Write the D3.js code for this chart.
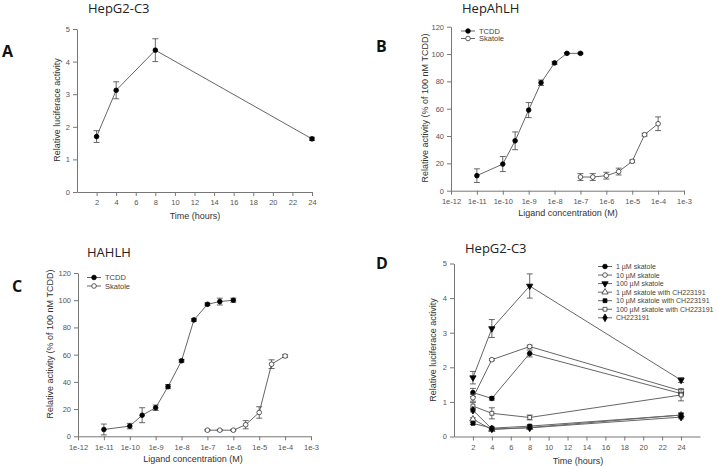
<!DOCTYPE html>
<html><head><meta charset="utf-8">
<script src="https://cdn.jsdelivr.net/npm/d3@7/dist/d3.min.js"></script>
<style>
body{margin:0;background:#fff;}
svg{display:block;font-family:"Liberation Sans",Arial,sans-serif;}
</style></head>
<body>
<svg id="c" width="717" height="468"></svg>
<script>
// ---------- DATA ----------
// Panel A
const timeA = [2, 4, 8, 24];
const meanA = [1.70, 3.12, 4.35, 1.63];
const errA  = [0.18, 0.26, 0.35, 0.05];
const timeTicks = [2,4,6,8,10,12,14,16,18,20,22,24];

// Panel B (HepAhLH)
const tcddConcB = [1e-11, 1e-10, 3e-10, 1e-9, 3e-9, 1e-8, 3e-8, 1e-7];
const tcddB     = [11, 19.5, 36.5, 59, 79, 93.5, 100.5, 100.5];
const tcddErrB  = [5, 5.5, 6.5, 5.5, 2, 1, 0.5, 0.5];
const skatConcB = [1e-7, 3e-7, 1e-6, 3e-6, 1e-5, 3e-5, 1e-4];
const skatB     = [10, 10, 11, 14, 21.5, 41, 49];
const skatErrB  = [2.5, 2.5, 2.5, 2.5, 1, 1, 5];

// Panel C (HAHLH)
const tcddConcC = [1e-11, 1e-10, 3e-10, 1e-9, 3e-9, 1e-8, 3e-8, 1e-7, 3e-7, 1e-6];
const tcddC     = [5, 7.5, 15.5, 21, 36.5, 55.5, 85.5, 97, 99, 100];
const tcddErrC  = [4, 2, 5.5, 2, 1.5, 1, 1, 1, 2.5, 1.5];
const skatConcC = [1e-7, 3e-7, 1e-6, 3e-6, 1e-5, 3e-5, 1e-4];
const skatC     = [4.5, 4.5, 4.5, 8.5, 17.5, 53, 59];
const skatErrC  = [0.5, 0.5, 0.5, 3, 4.2, 3.2, 1];

const concTicks  = [1e-12,1e-11,1e-10,1e-9,1e-8,1e-7,1e-6,1e-5,1e-4,1e-3];
const concLabels = ["1e-12","1e-11","1e-10","1e-9","1e-8","1e-7","1e-6","1e-5","1e-4","1e-3"];
const pctTicks = [0,20,40,60,80,100,120];
const foldTicks = [0,1,2,3,4,5];

// Panel D
const timeD = [2, 4, 8, 24];
const namesD = ["1 µM skatole","10 µM skatole","100 µM skatole",
  "1 µM skatole with CH223191","10 µM skatole with CH223191",
  "100 µM skatole with CH223191","CH223191"];
const markersD = ["fcircle","ocircle","ftridown","otriup","fsquare","osquare","fdiamond"];
const sk1   = [1.27, 1.10, 2.40, 1.24];  const sk1Err   = [0.12, 0.05, 0.10, 0.05];
const sk10  = [1.12, 2.22, 2.60, 1.32];  const sk10Err  = [0.10, 0.03, 0.04, 0.05];
const sk100 = [1.70, 3.12, 4.35, 1.63];  const sk100Err = [0.18, 0.26, 0.35, 0.07];
const sk1CH = [0.50, 0.20, 0.26, 0.62];  const sk1CHErr = [0.04, 0.03, 0.03, 0.05];
const sk10CH= [0.38, 0.24, 0.30, 0.62];  const sk10CHErr= [0.03, 0.03, 0.03, 0.06];
const sk100CH=[0.88, 0.67, 0.55, 1.20];  const sk100CHErr=[0.10, 0.16, 0.07, 0.17];
const chOnly= [0.76, 0.22, 0.25, 0.56];  const chOnlyErr= [0.05, 0.04, 0.03, 0.05];
const seriesD = [
  [sk1, sk1Err],[sk10, sk10Err],[sk100, sk100Err],[sk1CH, sk1CHErr],
  [sk10CH, sk10CHErr],[sk100CH, sk100CHErr],[chOnly, chOnlyErr]
];

// ---------- DRAWING ----------
const svg = d3.select("#c");
const LINE = "#666", AX = "#777", TXT = "#555";

function symPath(kind){
  const map = {circle:[d3.symbolCircle,17], tridown:[d3.symbolTriangle,17], triup:[d3.symbolTriangle,17],
               square:[d3.symbolSquare,15], diamond:[d3.symbolDiamond,17]};
  const [t,s] = map[kind.slice(1)];
  return d3.symbol().type(t).size(s)();
}
function drawMarker(g, x, y, kind){
  const filled = kind[0] === "f";
  const rot = kind.slice(1) === "tridown" ? 180 : 0;
  g.append("path").attr("d", symPath(kind))
    .attr("transform", `translate(${x},${y}) rotate(${rot})`)
    .attr("fill", filled ? "#000" : "#fff")
    .attr("stroke", filled ? "#000" : "#333").attr("stroke-width", 0.8);
}
function drawSeries(g, xs, ys, es, x, y, kind){
  const pts = xs.map((v,i)=>({x:v, y:ys[i], e:es[i]}));
  g.append("path").datum(pts)
    .attr("d", d3.line().x(d=>x(d.x)).y(d=>y(d.y)))
    .attr("fill","none").attr("stroke",LINE).attr("stroke-width",1);
  pts.forEach(d=>{
    const cx = x(d.x), y1 = y(d.y - d.e), y2 = y(d.y + d.e);
    g.append("line").attr("x1",cx).attr("x2",cx).attr("y1",y1).attr("y2",y2)
      .attr("stroke","#444").attr("stroke-width",0.8);
    [y1,y2].forEach(yy=> g.append("line").attr("x1",cx-3).attr("x2",cx+3)
      .attr("y1",yy).attr("y2",yy).attr("stroke","#444").attr("stroke-width",0.8));
  });
  pts.forEach(d=> drawMarker(g, x(d.x), y(d.y), kind));
}
function styleAxis(sel){
  sel.selectAll(".domain").attr("stroke",AX);
  sel.selectAll(".tick line").attr("stroke",AX);
  sel.selectAll(".tick text").attr("fill",TXT).attr("font-size","7.5px");
}
function axes(x, y, xTicks, xFmt, yTicks){
  const gx = svg.append("g").attr("transform",`translate(0,${y.range()[0]})`)
    .call(d3.axisBottom(x).tickValues(xTicks).tickFormat(xFmt).tickSize(4).tickPadding(4).tickSizeOuter(0));
  styleAxis(gx);
  const gy = svg.append("g").attr("transform",`translate(${x.range()[0]},0)`)
    .call(d3.axisLeft(y).tickValues(yTicks).tickFormat(d3.format("d")).tickSize(4).tickPadding(3).tickSizeOuter(0));
  styleAxis(gy);
}
function label(x, y, txt, rot, size){
  svg.append("text").attr("x",x).attr("y",y).attr("text-anchor","middle")
    .attr("transform", rot ? `rotate(-90,${x},${y})` : null)
    .attr("font-size",size).attr("fill","#333").text(txt);
}
function title(x, y, txt){
  svg.append("text").attr("x",x).attr("y",y).attr("font-size","13px")
    .attr("font-family","'Open Sans',sans-serif").attr("fill","#222").text(txt);
}
function letter(x, y, txt){
  svg.append("text").attr("x",x).attr("y",y).attr("font-size","16px").attr("font-weight","bold")
    .attr("font-family","'Open Sans',sans-serif").attr("fill","#111").text(txt);
}
function legend(x0, y0, dy, names, kinds, size){
  names.forEach((n,i)=>{
    const yy = y0 + i*dy;
    svg.append("line").attr("x1",x0).attr("x2",x0+14).attr("y1",yy).attr("y2",yy)
      .attr("stroke",LINE).attr("stroke-width",1);
    drawMarker(svg, x0+7, yy, kinds[i]);
    svg.append("text").attr("x",x0+18).attr("y",yy+2.6).attr("font-size",size)
      .attr("fill","#444").text(n);
  });
}

// ---- Panel A ----
{
  const x = d3.scaleLinear().domain([0,24]).range([77,312]);
  const y = d3.scaleLinear().domain([0,5]).range([192,29]);
  axes(x, y, timeTicks, d3.format("d"), foldTicks);
  drawSeries(svg, timeA, meanA, errA, x, y, "fcircle");
  title(88, 13, "HepG2-C3");
  letter(2, 57, "A");
  label(195, 219, "Time (hours)", false, "9px");
  label(60, 110, "Relative luciferace activity", true, "9px");
}
// ---- Panel B ----
{
  const x = d3.scaleLog().domain([1e-12,1e-3]).range([451,684]);
  const y = d3.scaleLinear().domain([0,120]).range([190.7,26.7]);
  axes(x, y, concTicks, (d,i)=>concLabels[i], pctTicks);
  drawSeries(svg, tcddConcB, tcddB, tcddErrB, x, y, "fcircle");
  drawSeries(svg, skatConcB, skatB, skatErrB, x, y, "ocircle");
  legend(461, 31, 7.5, ["TCDD","Skatole"], ["fcircle","ocircle"], "7.5px");
  title(462, 13, "HepAhLH");
  letter(376, 52, "B");
  label(568, 216, "Ligand concentration (M)", false, "9px");
  label(428, 108, "Relative activity (% of 100 nM TCDD)", true, "9px");
}
// ---- Panel C ----
{
  const x = d3.scaleLog().domain([1e-12,1e-3]).range([78,311]);
  const y = d3.scaleLinear().domain([0,120]).range([436.3,273]);
  axes(x, y, concTicks, (d,i)=>concLabels[i], pctTicks);
  drawSeries(svg, tcddConcC, tcddC, tcddErrC, x, y, "fcircle");
  drawSeries(svg, skatConcC, skatC, skatErrC, x, y, "ocircle");
  legend(87, 277.5, 8.5, ["TCDD","Skatole"], ["fcircle","ocircle"], "7.5px");
  title(87, 257, "HAHLH");
  letter(12, 292, "C");
  label(193, 462, "Ligand concentration (M)", false, "9px");
  label(53, 344, "Relative activity (% of 100 nM TCDD)", true, "9px");
}
// ---- Panel D ----
{
  const x = d3.scaleLinear().domain([0,26]).range([454,700]);
  const y = d3.scaleLinear().domain([0,5]).range([436.5,263.5]);
  axes(x, y, timeTicks, d3.format("d"), foldTicks);
  seriesD.forEach((s,i)=> drawSeries(svg, timeD, s[0], s[1], x, y, markersD[i]));
  legend(598, 266.5, 8.55, namesD, markersD, "7px");
  title(465, 253, "HepG2-C3");
  letter(376, 269, "D");
  label(578, 464, "Time (hours)", false, "9px");
  label(436, 350, "Relative luciferace activity", true, "9px");
}
</script>
</body></html>
